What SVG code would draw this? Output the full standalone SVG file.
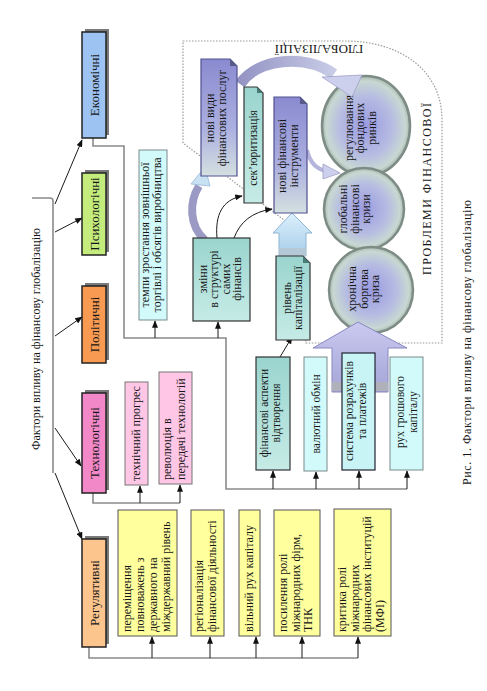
<svg xmlns="http://www.w3.org/2000/svg" width="487" height="691" viewBox="0 0 487 691">
<defs>
<style>
text{font-family:"Liberation Serif","Times New Roman",serif;fill:#151515;font-size:12px}
.m{text-anchor:middle}
.c13{font-size:13px}
.s11{font-size:11.5px}
.cat{stroke:#222;stroke-width:1.5}
.sh{fill:#7a7a7a}
.bus{fill:none;stroke:#8a8a8a;stroke-width:1.6}
.ar{fill:none;stroke:#1a1a1a;stroke-width:1;marker-end:url(#ah)}
.yel{fill:#ffff9e;stroke:#555;stroke-width:1}
.pink{fill:#ffc6e6;stroke:#777;stroke-width:1}
.cy{fill:#d2fafa;stroke:#7a8a8a;stroke-width:1}
.cyd{fill:#c8f4f6;stroke:#223;stroke-width:1.2}
.teal{fill:url(#gTeal);stroke:#333;stroke-width:1.2}
.lav{fill:url(#gLav);stroke:#505090;stroke-width:1.2}
.fold{fill:#5a5a8a}
.foldt{fill:#4a7a74}
.circ{fill:url(#gCirc);stroke:#7d8c84;stroke-width:2.5}
.frame{fill:none;stroke:#9a9a9a;stroke-width:1.2;stroke-dasharray:1.5 1.5}
</style>
<marker id="ah" viewBox="0 0 10 8" refX="9" refY="4" markerWidth="8" markerHeight="6" orient="auto" markerUnits="userSpaceOnUse"><path d="M0,0 L10,4 L0,8 z" fill="#111"/></marker>
<linearGradient id="gTeal" x1="0" y1="0" x2="0" y2="1"><stop offset="0" stop-color="#9ad4ce"/><stop offset="1" stop-color="#c6ebe6"/></linearGradient>
<linearGradient id="gLav" x1="0" y1="0" x2="0" y2="1"><stop offset="0" stop-color="#8a8ad0"/><stop offset="0.6" stop-color="#acb0e0"/><stop offset="1" stop-color="#d4e0e0"/></linearGradient>
<radialGradient id="gCirc" cx="0.5" cy="0.5" r="0.5"><stop offset="0" stop-color="#9a9ae0"/><stop offset="0.6" stop-color="#b6bce2"/><stop offset="0.9" stop-color="#c8d8d2"/><stop offset="1" stop-color="#a8b8b0"/></radialGradient>
<linearGradient id="gBlue" x1="0" y1="0" x2="0" y2="1"><stop offset="0" stop-color="#dcf0fc"/><stop offset="1" stop-color="#a6cdea"/></linearGradient>
<linearGradient id="gLavA" x1="0" y1="0" x2="0" y2="1"><stop offset="0" stop-color="#cacaf0"/><stop offset="1" stop-color="#a4a4d8"/></linearGradient>
<linearGradient id="gArc" x1="0" y1="0" x2="1" y2="0"><stop offset="0" stop-color="#9494c4"/><stop offset="1" stop-color="#c8cce6"/></linearGradient>
</defs>

<g id="frame">
<path class="frame" d="M183,41 H345 C400,41 442,70 442,120 V343 H306 L297,230 L183,143 Z"/>
<text class="c13 m" transform="translate(319,45) rotate(180)">ГЛОБАЛІЗАЦІЇ</text>
<text class="m" transform="translate(431,189) rotate(-90)" textLength="172" lengthAdjust="spacing">ПРОБЛЕМИ ФІНАНСОВОЇ</text>
</g>

<g id="n-regul-rynkiv"><ellipse class="circ" cx="366" cy="126" rx="44" ry="50"/>
<text class="m" transform="translate(352.5,128) rotate(-90)"><tspan x="0">регулювання</tspan><tspan x="0" dy="11.5">фондових</tspan><tspan x="0" dy="11.5">ринків</tspan></text></g>
<g id="n-glob-kryzy"><ellipse class="circ" cx="364" cy="209" rx="40" ry="41"/>
<text class="m" transform="translate(347,209) rotate(-90)"><tspan x="0">глобальні</tspan><tspan x="0" dy="11.5">фінансові</tspan><tspan x="0" dy="11.5">кризи</tspan></text></g>
<g id="n-borg-kryza"><ellipse class="circ" cx="371" cy="290" rx="42" ry="43"/>
<text class="m" transform="translate(356,289) rotate(-90)"><tspan x="0">хронічна</tspan><tspan x="0" dy="11.5">боргова</tspan><tspan x="0" dy="11.5">криза</tspan></text></g>

<g id="connectors">
<path class="bus" d="M32,198 H50 Q53,198 53,201 V473"/>
<path class="ar" d="M55,204 L82,140"/>
<path class="ar" d="M55,232 L82,218"/>
<path class="ar" d="M55,336 L82,317"/>
<path class="ar" d="M55,428 L81,466"/>
<path class="ar" d="M55,473 L82,539"/>
<path class="bus" d="M93,138 V146 H124 V338 H226 V489 H407"/>
<path class="ar" d="M155,338 V321"/>
<path class="ar" d="M218,338 V322"/>
<path class="ar" d="M273,489 V471"/>
<path class="ar" d="M316,489 V472"/>
<path class="ar" d="M359,489 V471"/>
<path class="ar" d="M407,489 V471"/>
<path class="bus" d="M93,493 V503 H180"/>
<path class="ar" d="M140,503 V486"/>
<path class="ar" d="M180,503 V485"/>
<path class="bus" d="M89,647 V658 H358"/>
<path class="ar" d="M152,658 V637"/>
<path class="ar" d="M210,658 V637"/>
<path class="ar" d="M256,658 V637"/>
<path class="ar" d="M302,658 V637"/>
<path class="ar" d="M358,658 V637"/>
<path class="ar" d="M280,357 L292,337"/>
<path class="ar" d="M217,238 C215,215 222,200 242,196"/>
<path class="ar" d="M234,238 C240,222 252,212 272,209"/>
<path d="M205,240 C189,226 189,202 199,186" fill="none" stroke="#9a9ac4" stroke-width="8"/>
<polygon points="205,167 191,184 210,186" fill="#c8e2f4" stroke="#98b8d8" stroke-width="0.8"/>
<path d="M240,84 C258,58 305,54 334,74" fill="none" stroke="url(#gArc)" stroke-width="11"/>
<polygon points="322,77 362,75 352,97" fill="#ccd0ec" stroke="#a0a0c8" stroke-width="0.8"/>
<path d="M307,150 Q311,168 326,171" fill="none" stroke="#b4b4dc" stroke-width="4"/>
<polygon points="323,164 340,173 323,179" fill="#ccd0ec" stroke="#a0a0c8" stroke-width="0.8"/>
<polygon points="292,213 312,233 306,233 306,256 279,256 279,233 273,233" fill="url(#gBlue)" stroke="#8eb6d6" stroke-width="1"/>
<rect x="279" y="248" width="27" height="8" fill="#b6c6d0" opacity="0.8"/>
<polygon points="358,322 407,348 388,348 388,392 332,392 332,348 313,348" fill="url(#gLavA)" stroke="#8888c0" stroke-width="1"/>
<rect x="332" y="382" width="56" height="9" fill="#b0b0ba"/>
</g>

<g id="n-title"><text transform="translate(40,450) rotate(-90)" textLength="222" lengthAdjust="spacing">Фактори впливу на фінансову глобалізацію</text></g>

<g id="n-econ"><rect class="sh" x="85" y="29" width="24" height="106"/><rect class="cat" x="82" y="32" width="24" height="106" fill="#9cc3f2"/>
<text class="c13 m" transform="translate(98.5,85) rotate(-90)">Економічні</text></g>
<g id="n-psych"><rect class="sh" x="85" y="170" width="24" height="82"/><rect class="cat" x="82" y="173" width="24" height="82" fill="#c4ec7c"/>
<text class="c13 m" transform="translate(98.5,214) rotate(-90)">Психологічні</text></g>
<g id="n-polit"><rect class="sh" x="85" y="283" width="24" height="77"/><rect class="cat" x="82" y="286" width="24" height="77" fill="#f89a52"/>
<text class="c13 m" transform="translate(98.5,324.5) rotate(-90)">Політичні</text></g>
<g id="n-tech"><rect class="sh" x="85" y="390" width="24" height="100"/><rect class="cat" x="82" y="393" width="24" height="100" fill="#f288c8"/>
<text class="c13 m" transform="translate(98.5,443) rotate(-90)">Технологічні</text></g>
<g id="n-regul"><rect class="sh" x="85" y="536" width="24" height="108"/><rect class="cat" x="82" y="539" width="24" height="108" fill="#fcc58e"/>
<text class="c13 m" transform="translate(98.5,593) rotate(-90)">Регулятивні</text></g>

<g id="n-y1"><rect class="yel" x="118" y="510" width="59" height="126"/>
<text transform="translate(131,632) rotate(-90)"><tspan x="0">переміщення</tspan><tspan x="0" dy="13">повноважень з</tspan><tspan x="0" dy="13">державного на</tspan><tspan x="0" dy="13">міждержавний рівень</tspan></text></g>
<g id="n-y2"><rect class="yel" x="191" y="510" width="33" height="126"/>
<text transform="translate(203,632) rotate(-90)"><tspan x="0">регіоналізація</tspan><tspan x="0" dy="12.5">фінансової діяльності</tspan></text></g>
<g id="n-y3"><rect class="yel" x="239" y="510" width="21" height="126"/>
<text transform="translate(253,632) rotate(-90)">вільний рух капіталу</text></g>
<g id="n-y4"><rect class="yel" x="274" y="510" width="46" height="126"/>
<text transform="translate(287,632) rotate(-90)"><tspan x="0">посилення ролі</tspan><tspan x="0" dy="12.5">міжнародних фірм,</tspan><tspan x="0" dy="12.5">ТНК</tspan></text></g>
<g id="n-y5"><rect class="yel" x="334" y="509" width="57" height="127"/>
<text transform="translate(346,632) rotate(-90)"><tspan x="0">критика ролі</tspan><tspan x="0" dy="12.5">міжнародних</tspan><tspan x="0" dy="12.5">фінансових інституцій</tspan><tspan x="0" dy="12.5">(МФІ)</tspan></text></g>

<g id="n-p1"><rect class="pink" x="125" y="382" width="23" height="103"/>
<text class="m" transform="translate(140,433.5) rotate(-90)">технічний прогрес</text></g>
<g id="n-p2"><rect class="pink" x="159" y="372" width="33" height="112"/>
<text transform="translate(171,480) rotate(-90)"><tspan x="0">революція в</tspan><tspan x="0" dy="13.5">передачі технологій</tspan></text></g>

<g id="n-tempy"><rect class="cy" x="139" y="150" width="28" height="170"/>
<text class="m" transform="translate(149,235) rotate(-90)"><tspan x="0">темпи зростання зовнішньої</tspan><tspan x="0" dy="12">торгівлі і обсягів виробництва</tspan></text></g>
<g id="n-zminy"><rect class="teal" x="193" y="238" width="57" height="83"/>
<text class="m" transform="translate(206.5,279) rotate(-90)"><tspan x="0">зміни</tspan><tspan x="0" dy="11.5">в структурі</tspan><tspan x="0" dy="11.5">самих</tspan><tspan x="0" dy="11.5">фінансів</tspan></text></g>
<g id="n-riven"><polygon class="teal" points="276,256 303,256 310,263 310,340 276,340"/><polygon class="foldt" points="303,256 303,263 310,263"/>
<text class="m" transform="translate(290.5,298) rotate(-90)"><tspan x="0">рівень</tspan><tspan x="0" dy="11">капіталізації</tspan></text></g>
<g id="n-aspekty"><rect class="teal" x="256" y="357" width="34" height="113"/>
<text class="m s11" transform="translate(267.5,413) rotate(-90)"><tspan x="0">фінансові аспекти</tspan><tspan x="0" dy="12">відтворення</tspan></text></g>
<g id="n-valyut"><rect class="cy" x="304" y="357" width="23" height="114"/>
<text class="m s11" transform="translate(319.5,414) rotate(-90)">валютний обмін</text></g>
<g id="n-systema"><rect class="cyd" x="342" y="353" width="33" height="117"/>
<text class="m s11" transform="translate(353,411) rotate(-90)"><tspan x="0">система розрахунків</tspan><tspan x="0" dy="12.5">та платежів</tspan></text></g>
<g id="n-rukh"><rect class="cy" x="390" y="357" width="33" height="113"/>
<text class="m s11" transform="translate(403.5,412) rotate(-90)"><tspan x="0">рух грошового</tspan><tspan x="0" dy="13">капіталу</tspan></text></g>

<g id="n-vydy"><polygon class="lav" points="201,59 230,59 237,66 237,176 201,176"/><polygon class="fold" points="230,59 230,66 237,66"/>
<text class="m" transform="translate(214,118) rotate(-90)"><tspan x="0">нові види</tspan><tspan x="0" dy="12">фінансових послуг</tspan></text></g>
<g id="n-sek"><polygon class="teal" points="244,87 257,87 263,93 263,203 244,203"/><polygon class="foldt" points="257,87 257,93 263,93"/>
<text class="m s11" transform="translate(257,148) rotate(-90)">сек’юритизація</text></g>
<g id="n-instr"><polygon class="lav" points="274,97 300,97 307,104 307,213 274,213"/><polygon class="fold" points="300,97 300,104 307,104"/>
<text class="m" transform="translate(285.5,156) rotate(-90)"><tspan x="0">нові фінансові</tspan><tspan x="0" dy="12">інструменти</tspan></text></g>

<g id="n-caption"><text transform="translate(471,485) rotate(-90)" textLength="285" lengthAdjust="spacing">Рис. 1. Фактори впливу на фінансову глобалізацію</text></g>
</svg>
